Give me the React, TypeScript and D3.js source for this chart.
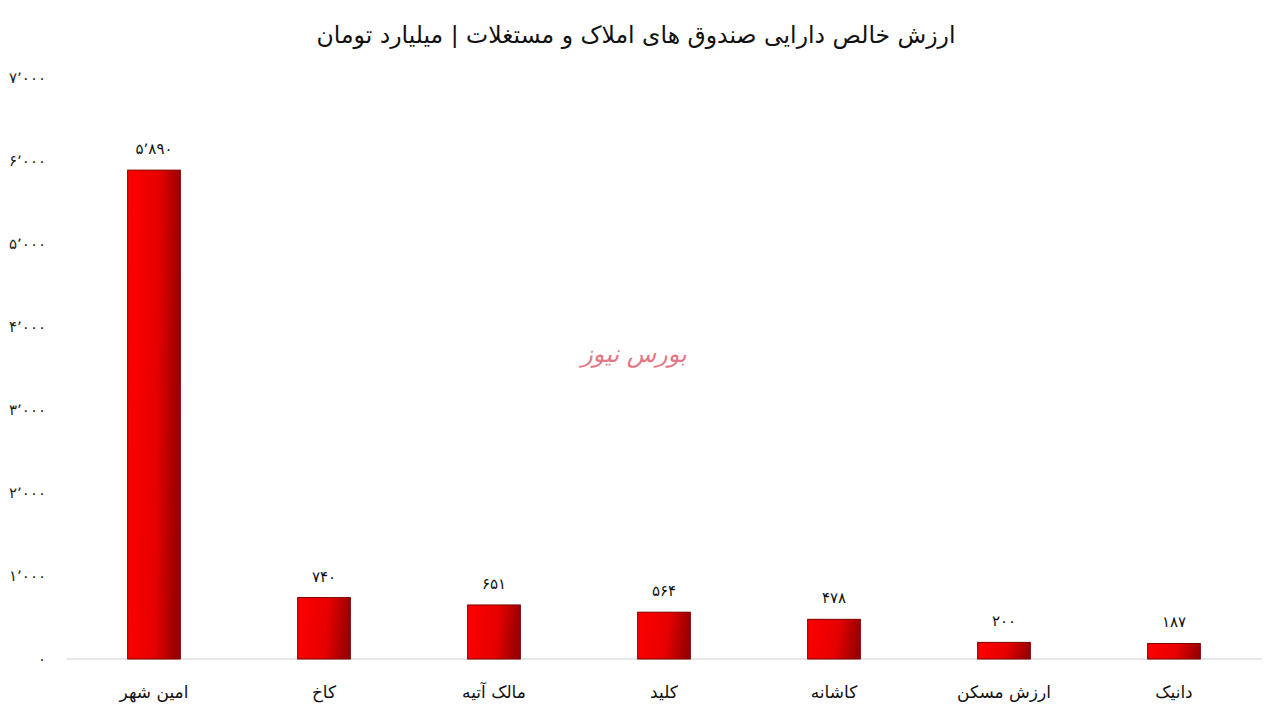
import React from "react";
import * as d3 from "d3";

const categories = ["امین شهر", "کاخ", "مالک آتیه", "کلید", "کاشانه", "ارزش مسکن", "دانیک"];
const values = [5890, 740, 651, 564, 478, 200, 187];
const yTicks = [0, 1000, 2000, 3000, 4000, 5000, 6000, 7000];
const title = "ارزش خالص دارایی صندوق های املاک و مستغلات | میلیارد تومان";
const watermark = "بورس نیوز";

const W = 1271, H = 712;
const faDigits = "۰۱۲۳۴۵۶۷۸۹";
const toFa = (n: number) =>
  d3.format(",")(n).replace(/,/g, "٬").replace(/\d/g, (d) => faDigits[+d]);

export default function App() {
  const x = d3.scaleBand<string>().domain(categories).range([69, 1259]).paddingInner(0.69).paddingOuter(0.345);
  const y = d3.scaleLinear().domain([0, 7000]).range([659, 78]);
  const font = "'DejaVu Sans', 'Noto Sans', sans-serif";
  return (
    <svg width={W} height={H} style={{ position: "absolute", left: 0, top: 0, background: "#fff" }}>
      <defs>
        <linearGradient id="barGrad" x1="0" y1="0" x2="1" y2="0.1">
          <stop offset="0" stopColor="#ff0000" />
          <stop offset="0.6" stopColor="#e60000" />
          <stop offset="1" stopColor="#9a0000" />
        </linearGradient>
      </defs>
      <rect width={W} height={H} fill="#fff" />
      <text x={636} y={43} textAnchor="middle" fontFamily={font} fontSize={23.5} fill="#111" direction="rtl">
        {title}
      </text>
      {yTicks.map((t) => (
        <text key={t} x={46} y={y(t) + 5} textAnchor="end" fontFamily={font} fontSize={15} fill="#222">
          {toFa(t)}
        </text>
      ))}
      <line x1={67} x2={1262} y1={y(0)} y2={y(0)} stroke="#d0d0d0" strokeWidth={1} />
      {categories.map((c, i) => (
        <g key={c}>
          <rect
            x={x(c)!}
            y={y(values[i])}
            width={x.bandwidth()}
            height={y(0) - y(values[i])}
            fill="url(#barGrad)"
            stroke="#7a0000"
            strokeWidth={1}
          />
          <text x={x(c)! + x.bandwidth() / 2} y={y(values[i]) - 16} textAnchor="middle" fontFamily={font} fontSize={15} fill="#111">
            {toFa(values[i])}
          </text>
          <text x={x(c)! + x.bandwidth() / 2} y={698} textAnchor="middle" fontFamily={font} fontSize={17} fill="#111" direction="rtl">
            {c}
          </text>
        </g>
      ))}
      <text x={634} y={362} textAnchor="middle" fontFamily={font} fontSize={24} fontStyle="italic" fill="#e06070" opacity={0.85} direction="rtl">
        {watermark}
      </text>
    </svg>
  );
}
